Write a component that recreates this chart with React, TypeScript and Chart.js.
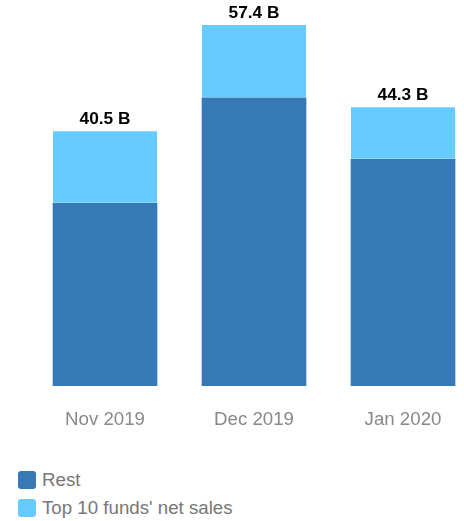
import React, { useEffect, useRef } from 'react';
import { Chart, registerables } from 'chart.js';
Chart.register(...registerables);

const categories = ['Nov 2019', 'Dec 2019', 'Jan 2020'];
const restValues = [29.0, 45.8, 36.0];
const top10Values = [11.5, 11.6, 8.3];
const totalLabels = ['40.5 B', '57.4 B', '44.3 B'];
const seriesNames = ['Rest', "Top 10 funds' net sales"];
const seriesColors = ['#357ab7', '#66ccff'];
const yMax = 57.4;

const FONT = '"Liberation Sans", Arial, Helvetica, sans-serif';

export default function App() {
  const ref = useRef<HTMLCanvasElement>(null);
  useEffect(() => {
    document.body.style.margin = '0';
    const totalsPlugin = {
      id: 'totals',
      afterDatasetsDraw(chart: any) {
        const ctx = chart.ctx;
        const meta = chart.getDatasetMeta(chart.data.datasets.length - 1);
        ctx.save();
        ctx.font = `bold 17.3px ${FONT}`;
        ctx.fillStyle = '#000';
        ctx.textAlign = 'center';
        ctx.textBaseline = 'middle';
        meta.data.forEach((el: any, i: number) => {
          ctx.fillText(totalLabels[i], el.x, el.y - 12);
        });
        ctx.restore();
      },
    };
    const chart = new Chart(ref.current as HTMLCanvasElement, {
      type: 'bar',
      data: {
        labels: categories,
        datasets: [
          {
            label: seriesNames[0],
            data: restValues,
            backgroundColor: seriesColors[0],
            borderWidth: 0,
            clip: false as any,
          },
          {
            label: seriesNames[1],
            data: top10Values,
            backgroundColor: seriesColors[1],
            borderColor: '#ffffff',
            borderWidth: { top: 0, left: 0, right: 0, bottom: 1 },
            borderSkipped: false,
            clip: false as any,
          },
        ],
      },
      options: {
        responsive: false,
        animation: false,
        layout: { padding: { left: 105, right: 61, top: 25, bottom: 0 } },
        datasets: { bar: { barThickness: 104 } },
        scales: {
          x: {
            stacked: true,
            offset: false,
            grid: { display: false },
            border: { display: false },
            ticks: {
              color: '#888888',
              font: { family: FONT, size: 18.7 },
              padding: 15,
              maxRotation: 0,
              autoSkip: false,
            },
          },
          y: { stacked: true, display: false, min: 0, max: yMax },
        },
        plugins: { legend: { display: false }, tooltip: { enabled: false } },
      },
      plugins: [totalsPlugin],
    });
    return () => chart.destroy();
  }, []);

  return (
    <div style={{ position: 'absolute', left: 0, top: 0, width: 464, height: 521, background: '#fff' }}>
      <canvas ref={ref} width={464} height={446} style={{ display: 'block', width: 464, height: 446 }} />
      {seriesNames.map((name, i) => (
        <div
          key={name}
          style={{
            position: 'absolute',
            left: 18,
            top: 471 + i * 28,
            height: 18,
            display: 'flex',
            alignItems: 'center',
            fontFamily: FONT,
            fontSize: 18.7,
            color: '#777777',
            whiteSpace: 'nowrap',
          }}
        >
          <span
            style={{
              display: 'inline-block',
              width: 18,
              height: 18,
              borderRadius: 3,
              background: seriesColors[i],
              marginRight: 6,
              flex: 'none',
            }}
          />
          <span>{name}</span>
        </div>
      ))}
    </div>
  );
}
